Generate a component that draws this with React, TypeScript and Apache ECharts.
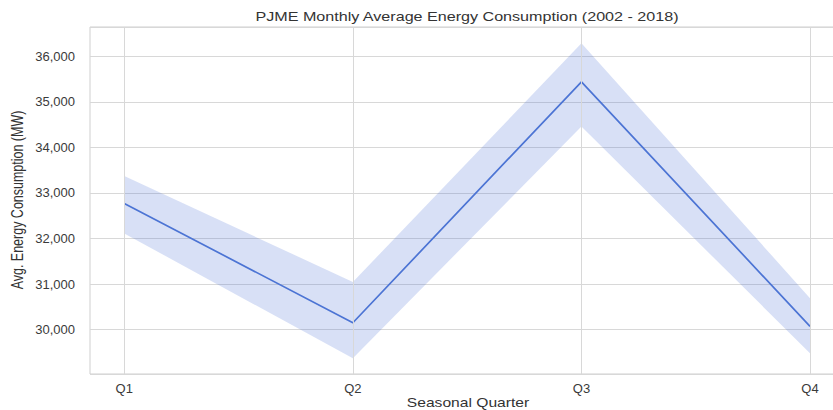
import React, { useEffect, useRef } from "react";
import * as echarts from "echarts";

const quarters = ["Q1", "Q2", "Q3", "Q4"];
const meanValues = [32770, 30150, 35440, 30070];
const lowerValues = [32110, 29370, 34460, 29480];
const upperValues = [33370, 31045, 36285, 30690];

const TITLE = "PJME Monthly Average Energy Consumption (2002 - 2018)";
const X_NAME = "Seasonal Quarter";
const Y_NAME = "Avg. Energy Consumption (MW)";

const FONT = "Liberation Sans, Arial, Helvetica, sans-serif";
const LINE_COLOR = "#4c74d4";
const BAND_COLOR = "rgba(76,116,212,0.22)";

export default function App() {
  const ref = useRef<HTMLDivElement>(null);
  useEffect(() => {
    if (!ref.current) return;
    const chart = echarts.init(ref.current, undefined, { renderer: "svg" });
    const idx = quarters.map((_, i) => i);
    const bandData = idx.map((i) => [i, lowerValues[i], upperValues[i]]);
    const meanPts = idx.map((i) => [i, meanValues[i]]);
    chart.setOption({
      animation: false,
      backgroundColor: "#ffffff",
      textStyle: { fontFamily: FONT },
      grid: {
        left: 90,
        top: 27,
        right: 0.7,
        bottom: 36,
        show: true,
        borderColor: "#cfcfcf",
        borderWidth: 1,
        backgroundColor: "transparent",
      },
      xAxis: {
        type: "value",
        min: -0.15,
        max: 3.15,
        axisLine: { show: false },
        axisTick: { show: false },
        splitLine: { show: false },
        axisLabel: {
          customValues: idx,
          formatter: (v: number) => quarters[Math.round(v)] ?? "",
          color: "#3a3a3a",
          fontSize: 13,
          fontFamily: FONT,
          margin: 8,
        },
      },
      yAxis: {
        type: "value",
        min: 29025,
        max: 36643,
        splitNumber: 7,
        axisLine: { show: false },
        axisTick: { show: false },
        splitLine: { show: true, lineStyle: { color: "#d8d8d8", width: 1 } },
        axisLabel: {
          showMinLabel: false,
          showMaxLabel: false,
          color: "#3a3a3a",
          fontSize: 13,
          fontFamily: FONT,
          margin: 15,
          formatter: (v: number) => v.toLocaleString("en-US"),
        },
      },
      graphic: [
        {
          type: "text",
          x: 467,
          y: 17,
          scaleX: 1.29,
          style: {
            text: TITLE,
            fontSize: 12.5,
            fontFamily: FONT,
            fill: "#333333",
            textAlign: "center",
            textVerticalAlign: "middle",
          },
        },
        {
          type: "text",
          x: 468,
          y: 403,
          scaleX: 1.25,
          style: {
            text: X_NAME,
            fontSize: 12.5,
            fontFamily: FONT,
            fill: "#333333",
            textAlign: "center",
            textVerticalAlign: "middle",
          },
        },
        {
          type: "text",
          x: 17,
          y: 200,
          rotation: Math.PI / 2,
          scaleY: 1.25,
          style: {
            text: Y_NAME,
            fontSize: 12.5,
            fontFamily: FONT,
            fill: "#333333",
            textAlign: "center",
            textVerticalAlign: "middle",
          },
        },
      ],
      series: [
        {
          type: "custom",
          name: "band",
          data: bandData,
          encode: { x: 0, y: [1, 2] },
          silent: true,
          z: 1,
          renderItem: (params: any, api: any) => {
            if (params.dataIndex !== 0) return null;
            const upper = bandData.map((d) => api.coord([d[0], d[2]]));
            const lower = bandData
              .slice()
              .reverse()
              .map((d) => api.coord([d[0], d[1]]));
            return {
              type: "polygon",
              shape: { points: upper.concat(lower) },
              style: { fill: BAND_COLOR, stroke: "none" },
            };
          },
          markLine: {
            silent: true,
            symbol: "none",
            label: { show: false },
            lineStyle: { color: "#d8d8d8", type: "solid", width: 1 },
            data: idx.map((i) => ({ xAxis: i })),
          },
        },
        {
          type: "line",
          name: "mean",
          data: meanPts,
          symbol: "none",
          lineStyle: { color: LINE_COLOR, width: 1.7 },
          z: 3,
        },
      ],
    });
    return () => chart.dispose();
  }, []);
  return (
    <div
      style={{
        position: "fixed",
        left: 0,
        top: 0,
        width: 833,
        height: 410,
        overflow: "hidden",
        background: "#fff",
      }}
    >
      <div ref={ref} style={{ width: 845, height: 410 }} />
    </div>
  );
}
